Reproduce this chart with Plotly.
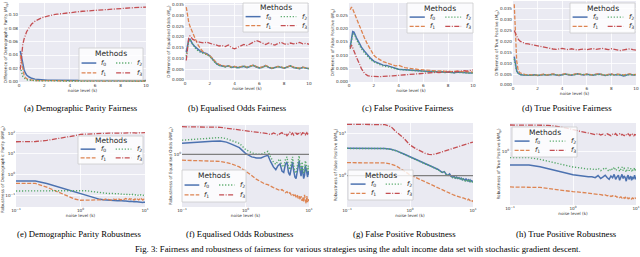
import plotly.graph_objects as go

W, H = 640, 257

# ---------------- data ----------------
X = [0.1, 0.2, 0.3, 0.4, 0.5, 0.6, 0.8, 1.0,
     1.25, 1.5, 1.75, 2.0, 2.25, 2.5, 2.75, 3.0, 3.25, 3.5, 3.75, 4.0,
     4.25, 4.5, 4.75, 5.0, 5.25, 5.5, 5.75, 6.0, 6.25, 6.5, 6.75, 7.0,
     7.25, 7.5, 7.75, 8.0, 8.25, 8.5, 8.75, 9.0, 9.25, 9.5, 9.75, 10.0]

METHODS = ["<i>f</i><sub>0</sub>", "<i>f</i><sub>1</sub>", "<i>f</i><sub>2</sub>", "<i>f</i><sub>3</sub>"]

# (a) Demographic parity fairness
A_F0 = [0.046, 0.035, 0.025, 0.018, 0.013, 0.010, 0.007, 0.005,
        0.0038, 0.0032, 0.0028, 0.0025, 0.0023, 0.0022, 0.0021, 0.0020,
        0.0021, 0.0019, 0.0020, 0.0019, 0.0020, 0.0019, 0.0018, 0.0019,
        0.0018, 0.0019, 0.0018, 0.0017, 0.0018, 0.0017, 0.0018, 0.0017,
        0.0016, 0.0017, 0.0016, 0.0017, 0.0016, 0.0017, 0.0016, 0.0016,
        0.0017, 0.0016, 0.0015, 0.0016]
A_F1 = [0.040, 0.028, 0.017, 0.010, 0.0065, 0.0045, 0.0030, 0.0022,
        0.0018, 0.0016, 0.0015, 0.0014, 0.0015, 0.0013, 0.0014, 0.0012,
        0.0014, 0.0012, 0.0013, 0.0012, 0.0013, 0.0011, 0.0012, 0.0013,
        0.0011, 0.0012, 0.0011, 0.0012, 0.0011, 0.0012, 0.0010, 0.0011,
        0.0012, 0.0010, 0.0011, 0.0010, 0.0011, 0.0010, 0.0011, 0.0010,
        0.0010, 0.0011, 0.0010, 0.0010]
A_F2 = [0.022, 0.013, 0.008, 0.0055, 0.0040, 0.0030, 0.0022, 0.0018,
        0.0015, 0.0013, 0.0012, 0.0012, 0.0011, 0.0012, 0.0010, 0.0011,
        0.0012, 0.0010, 0.0011, 0.0010, 0.0011, 0.0012, 0.0010, 0.0011,
        0.0010, 0.0011, 0.0012, 0.0010, 0.0011, 0.0010, 0.0011, 0.0012,
        0.0010, 0.0011, 0.0010, 0.0011, 0.0012, 0.0010, 0.0011, 0.0010,
        0.0011, 0.0010, 0.0012, 0.0011]
A_F3 = [0.018, 0.042, 0.056, 0.064, 0.070, 0.075, 0.081, 0.0865,
        0.0905, 0.0935, 0.0955, 0.0972, 0.0985, 0.0995, 0.1004, 0.1012,
        0.1019, 0.1025, 0.1031, 0.1037, 0.1042, 0.1047, 0.1051, 0.1056,
        0.1060, 0.1064, 0.1068, 0.1072, 0.1075, 0.1079, 0.1082, 0.1086,
        0.1089, 0.1092, 0.1095, 0.1098, 0.1101, 0.1103, 0.1106, 0.1109,
        0.1111, 0.1113, 0.1116, 0.1118]

# (b) Equalised odds fairness
B_F0 = [0.013, 0.0165, 0.0185, 0.0190, 0.0180, 0.0168, 0.0155, 0.0143,
        0.0133, 0.0127, 0.0122, 0.0112, 0.0095, 0.0078, 0.0068, 0.0064,
        0.0061, 0.0065, 0.0058, 0.0062, 0.0056, 0.0060, 0.0063, 0.0057,
        0.0064, 0.0068, 0.0060, 0.0055, 0.0059, 0.0066, 0.0058, 0.0053,
        0.0057, 0.0062, 0.0058, 0.0054, 0.0060, 0.0065, 0.0057, 0.0055,
        0.0052, 0.0058, 0.0054, 0.0051]
B_F1 = [0.034, 0.029, 0.027, 0.025, 0.0235, 0.022, 0.0195, 0.0168,
        0.0145, 0.0128, 0.0118, 0.0112, 0.0098, 0.0082, 0.0072, 0.0066,
        0.0063, 0.0066, 0.0060, 0.0063, 0.0058, 0.0061, 0.0065, 0.0059,
        0.0065, 0.0069, 0.0062, 0.0057, 0.0060, 0.0067, 0.0060, 0.0055,
        0.0058, 0.0063, 0.0060, 0.0055, 0.0061, 0.0066, 0.0059, 0.0056,
        0.0054, 0.0059, 0.0056, 0.0053]
B_F2 = [0.011, 0.0155, 0.0180, 0.0188, 0.0178, 0.0165, 0.0150, 0.0138,
        0.0128, 0.0123, 0.0118, 0.0108, 0.0092, 0.0076, 0.0067, 0.0063,
        0.0060, 0.0064, 0.0057, 0.0061, 0.0055, 0.0059, 0.0064, 0.0058,
        0.0063, 0.0067, 0.0061, 0.0056, 0.0058, 0.0065, 0.0059, 0.0054,
        0.0056, 0.0061, 0.0059, 0.0055, 0.0059, 0.0064, 0.0058, 0.0054,
        0.0053, 0.0057, 0.0055, 0.0052]
B_F3 = [0.009, 0.016, 0.0195, 0.0205, 0.0200, 0.0190, 0.0182, 0.0178,
        0.0175, 0.0172, 0.0176, 0.0170, 0.0166, 0.0163, 0.0158, 0.0160,
        0.0155, 0.0163, 0.0150, 0.0145, 0.0152, 0.0158, 0.0165, 0.0160,
        0.0168, 0.0175, 0.0183, 0.0178, 0.0170, 0.0165, 0.0172, 0.0168,
        0.0162, 0.0170, 0.0175, 0.0168, 0.0165, 0.0172, 0.0168, 0.0170,
        0.0175, 0.0168, 0.0170, 0.0166]

# (c) False positive fairness
C_F0 = [0.0130, 0.0170, 0.0188, 0.0186, 0.0178, 0.0165, 0.0148, 0.0130,
        0.0115, 0.0100, 0.0088, 0.0078, 0.0072, 0.0066, 0.0063, 0.0062,
        0.0058, 0.0055, 0.0050, 0.0048, 0.0047, 0.0046, 0.0045, 0.0044,
        0.0043, 0.0042, 0.0040, 0.0041, 0.0040, 0.0039, 0.0040, 0.0038,
        0.0037, 0.0038, 0.0036, 0.0037, 0.0036, 0.0035, 0.0037, 0.0036,
        0.0035, 0.0036, 0.0034, 0.0035]
C_F1 = [0.0270, 0.0280, 0.0272, 0.0260, 0.0248, 0.0235, 0.0212, 0.0190,
        0.0164, 0.0140, 0.0118, 0.0100, 0.0090, 0.0082, 0.0076, 0.0072,
        0.0068, 0.0063, 0.0060, 0.0062, 0.0057, 0.0054, 0.0052, 0.0050,
        0.0049, 0.0047, 0.0046, 0.0045, 0.0044, 0.0045, 0.0043, 0.0042,
        0.0041, 0.0042, 0.0040, 0.0041, 0.0039, 0.0040, 0.0041, 0.0039,
        0.0038, 0.0039, 0.0038, 0.0037]
C_F2 = [0.0125, 0.0162, 0.0180, 0.0179, 0.0172, 0.0158, 0.0141, 0.0124,
        0.0109, 0.0095, 0.0084, 0.0075, 0.0069, 0.0064, 0.0060, 0.0058,
        0.0055, 0.0052, 0.0049, 0.0047, 0.0046, 0.0045, 0.0044, 0.0043,
        0.0042, 0.0041, 0.0040, 0.0040, 0.0039, 0.0038, 0.0039, 0.0037,
        0.0036, 0.0037, 0.0035, 0.0036, 0.0035, 0.0034, 0.0036, 0.0035,
        0.0034, 0.0035, 0.0033, 0.0034]
C_F3 = [0.0125, 0.0138, 0.0128, 0.0115, 0.0103, 0.0092, 0.0072, 0.0050,
        0.0032, 0.0024, 0.0021, 0.0020, 0.0020, 0.0020, 0.0021, 0.0021,
        0.0022, 0.0023, 0.0024, 0.0025, 0.0026, 0.0027, 0.0028, 0.0029,
        0.0030, 0.0031, 0.0032, 0.0033, 0.0034, 0.0033, 0.0035, 0.0036,
        0.0035, 0.0037, 0.0038, 0.0037, 0.0039, 0.0038, 0.0040, 0.0041,
        0.0042, 0.0041, 0.0043, 0.0045]

# (d) True positive fairness
D_F0 = [0.0130, 0.0090, 0.0065, 0.0055, 0.0050, 0.0048, 0.0046, 0.0045,
        0.0044, 0.0045, 0.0047, 0.0044, 0.0046, 0.0048, 0.0045, 0.0047,
        0.0049, 0.0046, 0.0044, 0.0047, 0.0050, 0.0047, 0.0045, 0.0048,
        0.0051, 0.0048, 0.0046, 0.0049, 0.0047, 0.0045, 0.0048, 0.0050,
        0.0047, 0.0044, 0.0047, 0.0049, 0.0046, 0.0048, 0.0046, 0.0041,
        0.0046, 0.0049, 0.0046, 0.0047]
D_F1 = [0.0370, 0.0200, 0.0110, 0.0075, 0.0060, 0.0055, 0.0050, 0.0048,
        0.0047, 0.0046, 0.0048, 0.0045, 0.0047, 0.0050, 0.0046, 0.0048,
        0.0051, 0.0047, 0.0045, 0.0049, 0.0052, 0.0048, 0.0046, 0.0050,
        0.0053, 0.0049, 0.0047, 0.0051, 0.0048, 0.0046, 0.0050, 0.0052,
        0.0048, 0.0045, 0.0049, 0.0051, 0.0047, 0.0050, 0.0048, 0.0046,
        0.0049, 0.0051, 0.0047, 0.0049]
D_F2 = [0.0120, 0.0085, 0.0063, 0.0054, 0.0049, 0.0047, 0.0046, 0.0045,
        0.0045, 0.0044, 0.0046, 0.0045, 0.0045, 0.0047, 0.0046, 0.0046,
        0.0048, 0.0047, 0.0045, 0.0046, 0.0049, 0.0048, 0.0046, 0.0047,
        0.0050, 0.0049, 0.0047, 0.0048, 0.0048, 0.0046, 0.0047, 0.0049,
        0.0048, 0.0045, 0.0046, 0.0048, 0.0047, 0.0047, 0.0047, 0.0043,
        0.0045, 0.0048, 0.0047, 0.0046]
D_F3 = [0.0250, 0.0235, 0.0222, 0.0212, 0.0205, 0.0200, 0.0195, 0.0190,
        0.0188, 0.0185, 0.0180, 0.0178, 0.0176, 0.0173, 0.0170, 0.0168,
        0.0165, 0.0163, 0.0166, 0.0168, 0.0164, 0.0162, 0.0166, 0.0163,
        0.0160, 0.0163, 0.0165, 0.0162, 0.0164, 0.0167, 0.0163, 0.0166,
        0.0168, 0.0165, 0.0162, 0.0166, 0.0163, 0.0160, 0.0158, 0.0161,
        0.0164, 0.0166, 0.0162, 0.0160]

# (e) Demographic parity robustness
E_F0 = [0.48, 0.48, 0.37, 0.28, 0.23, 0.195, 0.148, 0.12,
        0.098, 0.082, 0.071, 0.063, 0.060, 0.058, 0.057, 0.056,
        0.055, 0.056, 0.054, 0.055, 0.053, 0.054, 0.052, 0.053,
        0.051, 0.052, 0.050, 0.051, 0.049, 0.050, 0.048, 0.049,
        0.048, 0.047, 0.048, 0.046, 0.047, 0.046, 0.045, 0.046,
        0.045, 0.046, 0.044, 0.045]
E_F1 = [0.37, 0.37, 0.245, 0.17, 0.123, 0.097, 0.066, 0.057,
        0.058, 0.061, 0.059, 0.064, 0.060, 0.066, 0.062, 0.058,
        0.065, 0.061, 0.068, 0.063, 0.059, 0.066, 0.062, 0.069,
        0.064, 0.060, 0.067, 0.063, 0.070, 0.062, 0.058, 0.066,
        0.061, 0.068, 0.063, 0.059, 0.065, 0.060, 0.067, 0.062,
        0.058, 0.064, 0.060, 0.062]
E_F2 = [0.16, 0.16, 0.16, 0.16, 0.16, 0.16, 0.165, 0.17,
        0.165, 0.15, 0.14, 0.13, 0.125, 0.128, 0.12, 0.123,
        0.118, 0.122, 0.115, 0.12, 0.113, 0.118, 0.11, 0.116,
        0.109, 0.114, 0.107, 0.112, 0.105, 0.11, 0.104, 0.108,
        0.102, 0.107, 0.10, 0.105, 0.099, 0.104, 0.098, 0.103,
        0.097, 0.10, 0.095, 0.099]
E_F3 = [38, 39, 44, 50, 56, 62, 74, 86,
        90, 94, 96, 97, 98, 97, 99, 98,
        99, 100, 98, 100, 99, 101, 100, 99,
        101, 100, 102, 100, 101, 103, 101, 102,
        100, 102, 103, 101, 102, 104, 102, 103,
        102, 104, 103, 104]

# (f) Equalised odds robustness
F_F0 = [1.24, 1.26, 1.29, 1.30, 1.27, 1.22, 1.14, 1.02,
        0.95, 0.93, 0.93, 0.96, 0.98, 0.86, 0.78, 0.74,
        0.80, 0.83, 0.72, 0.70, 0.82, 0.86, 0.70, 0.66,
        0.75, 0.86, 0.72, 0.64, 0.62, 0.70, 0.84, 0.88,
        0.72, 0.65, 0.78, 0.70, 0.62, 0.66, 0.80, 0.75,
        0.68, 0.64, 0.72, 0.67]
F_F1 = [0.89, 0.88, 0.88, 0.87, 0.85, 0.83, 0.78, 0.72,
        0.66, 0.61, 0.58, 0.56, 0.55, 0.53, 0.52, 0.51,
        0.50, 0.49, 0.50, 0.48, 0.47, 0.48, 0.46, 0.47,
        0.45, 0.46, 0.44, 0.46, 0.43, 0.45, 0.42, 0.44,
        0.41, 0.44, 0.40, 0.43, 0.39, 0.45, 0.40, 0.38,
        0.44, 0.39, 0.42, 0.40]
F_F2 = [1.32, 1.35, 1.38, 1.39, 1.36, 1.31, 1.24, 1.10,
        1.03, 1.00, 1.00, 1.03, 1.06, 0.94, 0.86, 0.82,
        0.88, 0.91, 0.80, 0.78, 0.90, 0.95, 0.78, 0.74,
        0.83, 0.95, 0.80, 0.71, 0.69, 0.78, 0.93, 0.97,
        0.80, 0.72, 0.86, 0.78, 0.69, 0.73, 0.88, 0.83,
        0.75, 0.71, 0.80, 0.75]
F_F3 = [1.72, 1.72, 1.71, 1.70, 1.67, 1.65, 1.61, 1.58,
        1.56, 1.54, 1.53, 1.52, 1.50, 1.47, 1.52, 1.49,
        1.45, 1.50, 1.53, 1.47, 1.51, 1.44, 1.49, 1.54,
        1.48, 1.52, 1.46, 1.50, 1.55, 1.47, 1.51, 1.49,
        1.53, 1.46, 1.50, 1.54, 1.48, 1.52, 1.47, 1.51,
        1.53, 1.49, 1.52, 1.50]

# (g) False positive robustness
G_F0 = [4.43, 4.43, 4.43, 4.40, 4.20, 3.90, 3.25, 2.80,
        2.45, 2.15, 1.95, 1.78, 1.62, 1.50, 1.42, 1.30,
        1.20, 1.25, 1.08, 1.02, 1.10, 0.96, 0.92, 0.98,
        0.88, 0.93, 0.86, 0.90, 0.84, 0.88, 0.80, 0.85,
        0.82, 0.78, 0.84, 0.80, 0.76, 0.80, 0.74, 0.79,
        0.73, 0.76, 0.71, 0.72]
G_F1 = [2.03, 2.03, 2.03, 2.00, 1.88, 1.70, 1.31, 1.04,
        0.90, 0.79, 0.71, 0.64, 0.59, 0.55, 0.51, 0.48,
        0.46, 0.44, 0.42, 0.40, 0.39, 0.37, 0.36, 0.35,
        0.34, 0.33, 0.33, 0.32, 0.31, 0.31, 0.30, 0.30,
        0.29, 0.29, 0.28, 0.28, 0.27, 0.28, 0.27, 0.26,
        0.27, 0.26, 0.25, 0.26]
G_F2 = [4.40, 4.40, 4.40, 4.37, 4.17, 3.87, 3.22, 2.77,
        2.42, 2.12, 1.93, 1.76, 1.60, 1.47, 1.40, 1.28,
        1.18, 1.22, 1.06, 1.00, 1.07, 0.94, 0.90, 0.95,
        0.86, 0.90, 0.83, 0.87, 0.81, 0.85, 0.77, 0.82,
        0.79, 0.75, 0.81, 0.77, 0.73, 0.77, 0.71, 0.75,
        0.70, 0.73, 0.68, 0.69]
G_F3 = [16.3, 16.3, 16.3, 16.0, 14.3, 10.9, 7.6, 5.3,
        4.3, 3.7, 3.35, 3.2, 3.15, 3.25, 3.4, 3.55,
        3.7, 3.8, 3.9, 4.05, 4.15, 4.25, 4.35, 4.5,
        4.6, 4.7, 4.8, 4.95, 5.0, 5.1, 5.25, 5.3,
        5.4, 5.5, 5.6, 5.65, 5.75, 5.8, 5.9, 5.95,
        6.0, 6.05, 6.1, 6.2]

# (h) True positive robustness
H_F0 = [0.77, 0.77, 0.745, 0.72, 0.70, 0.685, 0.655, 0.635,
        0.625, 0.615, 0.61, 0.612, 0.60, 0.625, 0.59, 0.61,
        0.63, 0.60, 0.58, 0.62, 0.60, 0.64, 0.58, 0.61,
        0.63, 0.57, 0.60, 0.64, 0.59, 0.62, 0.60, 0.56,
        0.61, 0.63, 0.58, 0.60, 0.62, 0.57, 0.61, 0.59,
        0.60, 0.63, 0.58, 0.61]
H_F1 = [0.50, 0.50, 0.495, 0.485, 0.477, 0.47, 0.462, 0.456,
        0.452, 0.448, 0.445, 0.44, 0.435, 0.438, 0.43, 0.425,
        0.428, 0.42, 0.425, 0.415, 0.42, 0.412, 0.418, 0.408,
        0.414, 0.405, 0.412, 0.402, 0.41, 0.40, 0.408, 0.398,
        0.405, 0.396, 0.404, 0.398, 0.402, 0.395, 0.403, 0.397,
        0.40, 0.394, 0.401, 0.398]
H_F2 = [0.89, 0.89, 0.86, 0.83, 0.805, 0.79, 0.76, 0.74,
        0.73, 0.72, 0.71, 0.715, 0.70, 0.72, 0.69, 0.71,
        0.73, 0.70, 0.68, 0.72, 0.70, 0.74, 0.69, 0.71,
        0.73, 0.68, 0.71, 0.74, 0.69, 0.72, 0.70, 0.67,
        0.71, 0.73, 0.69, 0.70, 0.72, 0.68, 0.71, 0.69,
        0.70, 0.73, 0.68, 0.71]
H_F3 = [1.69, 1.69, 1.69, 1.68, 1.66, 1.64, 1.59, 1.54,
        1.50, 1.47, 1.44, 1.42, 1.40, 1.43, 1.39, 1.41,
        1.38, 1.42, 1.40, 1.37, 1.41, 1.39, 1.43, 1.38,
        1.40, 1.42, 1.38, 1.41, 1.39, 1.37, 1.41, 1.40,
        1.38, 1.42, 1.39, 1.37, 1.40, 1.38, 1.41, 1.39,
        1.37, 1.40, 1.38, 1.39]

REF_LEVEL = 1.0  # robustness reference line in (f) and (g)

CAPTIONS = ["(a) Demographic Parity Fairness", "(b) Equalised Odds Fairness",
            "(c) False Positive Fairness", "(d) True Positive Fairness",
            "(e) Demographic Parity Robustness", "(f) Equalised Odds Robustness",
            "(g) False Positive Robustness", "(h) True Positive Robustness"]
YTITLES = ["Difference of Demographic Parity (<i>M</i><sub>dp</sub>)",
           "Difference of Equalised Odds (<i>M</i><sub>eo</sub>)",
           "Difference of False Positive (<i>M</i><sub>fp</sub>)",
           "Difference of True Positive (<i>M</i><sub>tp</sub>)",
           "Robustness of Demographic Parity (<i>RM</i><sub>dp</sub>)",
           "Robustness of Equalised Odds (<i>RM</i><sub>eo</sub>)",
           "Robustness of False Positive (<i>RM</i><sub>fp</sub>)",
           "Robustness of True Positive (<i>RM</i><sub>tp</sub>)"]
FIG_CAPTION = ("Fig. 3: Fairness and robustness of fairness for various strategies using "
               "the adult income data set with stochastic gradient descent.")

LIN_TICKS = [0, 2, 4, 6, 8, 10]
LOG_TICKS = [0.1, 1, 10]
LOG_TICKTEXT = ["10<sup>−1</sup>", "10<sup>0</sup>", "10<sup>1</sup>"]

SERIES = [(A_F0, A_F1, A_F2, A_F3), (B_F0, B_F1, B_F2, B_F3),
          (C_F0, C_F1, C_F2, C_F3), (D_F0, D_F1, D_F2, D_F3),
          (E_F0, E_F1, E_F2, E_F3), (F_F0, F_F1, F_F2, F_F3),
          (G_F0, G_F1, G_F2, G_F3), (H_F0, H_F1, H_F2, H_F3)]
for grp in SERIES:
    for s in grp:
        assert len(s) == len(X)

# ---------------- styling / layout ----------------
COLORS = ["#4C72B0", "#DD8452", "#55A868", "#C44E52"]
DASHES = ["solid", "4px,1.6px", "1.2px,1.8px", "5px,1.5px,1px,1.5px"]
WIDTHS = [1.5, 1.3, 1.4, 1.3]

# pixel boxes of plot areas (left, right, top, bottom)
BOXES = [(19, 146, 3, 82), (185, 309, 3, 80), (349, 473, 3, 82), (513, 636, 1, 85),
         (16, 145, 132, 207), (182, 309, 125, 207), (347, 473, 123, 207), (510, 636, 123, 205)]
# legend boxes (left, top, width, height) in pixels
LEG_BOXES = [(79, 48, 64, 32), (243, 3, 65, 29), (407, 3, 66, 30), (570, 3, 65, 30),
             (78, 136, 65, 28), (182, 170, 64, 32), (348, 170, 65, 30), (512, 127, 65, 30)]
CAP_POS = [(80.5, 108), (237, 108), (407.5, 108), (567, 108),
           (79, 234), (239.5, 234), (404, 234), (566, 234)]

YAX = [
    dict(range=[-0.0005, 0.118], tickvals=[0, 0.02, 0.04, 0.06, 0.08, 0.10], tickformat=".2f"),
    dict(range=[-0.0001, 0.0359], tickvals=[0, 0.005, 0.01, 0.015, 0.02, 0.025, 0.03, 0.035], tickformat=".3f"),
    dict(range=[0, 0.0295], tickvals=[0, 0.005, 0.01, 0.015, 0.02, 0.025], tickformat=".3f"),
    dict(range=[0, 0.0385], tickvals=[0, 0.005, 0.01, 0.015, 0.02, 0.025, 0.03, 0.035], tickformat=".3f"),
    dict(type="log", range=[-1.57, 2.05], tickvals=[0.1, 1, 10, 100],
         ticktext=["10<sup>−1</sup>", "10<sup>0</sup>", "10<sup>1</sup>", "10<sup>2</sup>"]),
    dict(type="log", range=[-0.45, 0.25], tickvals=[1], ticktext=["10<sup>0</sup>"]),
    dict(type="log", range=[-0.738, 1.243], tickvals=[1, 10], ticktext=["10<sup>0</sup>", "10<sup>1</sup>"]),
    dict(type="log", range=[-0.455, 0.245], tickvals=[1], ticktext=["10<sup>0</sup>"]),
]
REF_PANELS = [5, 6]

TICKFONT = dict(family="DejaVu Sans", size=4.2, color="#333333")
TITLEFONT = dict(family="DejaVu Sans", size=4.2, color="#333333")
SERIF = dict(family="Liberation Serif", size=8.7, color="#000000")

fig = go.Figure()
layout = dict(width=W, height=H, margin=dict(l=0, r=0, t=0, b=0), autosize=False,
              template="none", paper_bgcolor="white", plot_bgcolor="#EAEAF2",
              showlegend=False)

def px(x):
    return x / W

def py(y):
    return 1 - y / H

annotations = []
shapes = []

for i in range(8):
    n = i + 1
    xa = "x" if n == 1 else f"x{n}"
    ya = "y" if n == 1 else f"y{n}"
    for j in range(4):
        fig.add_trace(go.Scatter(x=X, y=SERIES[i][j], mode="lines", xaxis=xa, yaxis=ya,
                                 name=METHODS[j], hoverinfo="skip",
                                 line=dict(color=COLORS[j], width=WIDTHS[j], dash=DASHES[j])))
    if i in REF_PANELS:
        fig.add_trace(go.Scatter(x=[X[0], X[-1]], y=[REF_LEVEL, REF_LEVEL], mode="lines",
                                 xaxis=xa, yaxis=ya, hoverinfo="skip",
                                 line=dict(color="#7f7f7f", width=1.3)))
    l, r, t, b = BOXES[i]
    common = dict(showgrid=True, gridcolor="white", gridwidth=0.8, zeroline=False,
                  showline=False, ticks="", tickfont=TICKFONT, automargin=False)
    if i < 4:
        xdict = dict(range=[0, 10], tickvals=LIN_TICKS)
    else:
        xdict = dict(type="log", range=[-1, 1], tickvals=LOG_TICKS, ticktext=LOG_TICKTEXT)
    xdict.update(common)
    xdict.update(domain=[px(l), px(r)], anchor=ya,
                 title=dict(text="noise level (k)", font=TITLEFONT, standoff=1))
    ydict = dict(YAX[i])
    ydict.update(common)
    ydict.update(domain=[py(b), py(t)], anchor=xa,
                 title=dict(text=YTITLES[i], font=TITLEFONT, standoff=1))
    layout["xaxis" if n == 1 else f"xaxis{n}"] = xdict
    layout["yaxis" if n == 1 else f"yaxis{n}"] = ydict

    cx, cy = CAP_POS[i]
    annotations.append(dict(text=CAPTIONS[i], x=px(cx), y=py(cy), xref="paper", yref="paper",
                            showarrow=False, xanchor="center", yanchor="middle", font=SERIF))

    # legend box
    lx, lt, lw, lh = LEG_BOXES[i]
    shapes.append(dict(type="rect", xref="paper", yref="paper", x0=px(lx), x1=px(lx + lw),
                       y0=py(lt + lh), y1=py(lt), fillcolor="rgba(255,255,255,0.8)",
                       line=dict(color="#cccccc", width=0.8), layer="above"))
    annotations.append(dict(text="Methods", x=px(lx + lw / 2), y=py(lt + 0.17 * lh),
                            xref="paper", yref="paper", showarrow=False,
                            xanchor="center", yanchor="middle",
                            font=dict(family="DejaVu Sans", size=7.5, color="#262626")))
    for j in range(4):
        col, row = j // 2, j % 2
        ry = lt + (0.47 if row == 0 else 0.78) * lh
        if col == 0:
            a0, a1, lab = 0.04, 0.27, 0.32
        else:
            a0, a1, lab = 0.58, 0.82, 0.87
        shapes.append(dict(type="line", xref="paper", yref="paper",
                           x0=px(lx + a0 * lw), x1=px(lx + a1 * lw), y0=py(ry), y1=py(ry),
                           line=dict(color=COLORS[j], width=WIDTHS[j], dash=DASHES[j]),
                           layer="above"))
        annotations.append(dict(text=METHODS[j], x=px(lx + lab * lw), y=py(ry),
                                xref="paper", yref="paper", showarrow=False,
                                xanchor="left", yanchor="middle",
                                font=dict(family="DejaVu Sans", size=6.5, color="#262626")))

annotations.append(dict(text=FIG_CAPTION, x=px(133), y=py(249), xref="paper", yref="paper",
                        showarrow=False, xanchor="left", yanchor="middle", font=SERIF))

layout["annotations"] = annotations
layout["shapes"] = shapes
fig.update_layout(**layout)
fig.write_html("out.html",
               config={"displayModeBar": False, "staticPlot": True},
               post_script="document.body.style.margin='0';document.body.style.overflow='hidden';")
